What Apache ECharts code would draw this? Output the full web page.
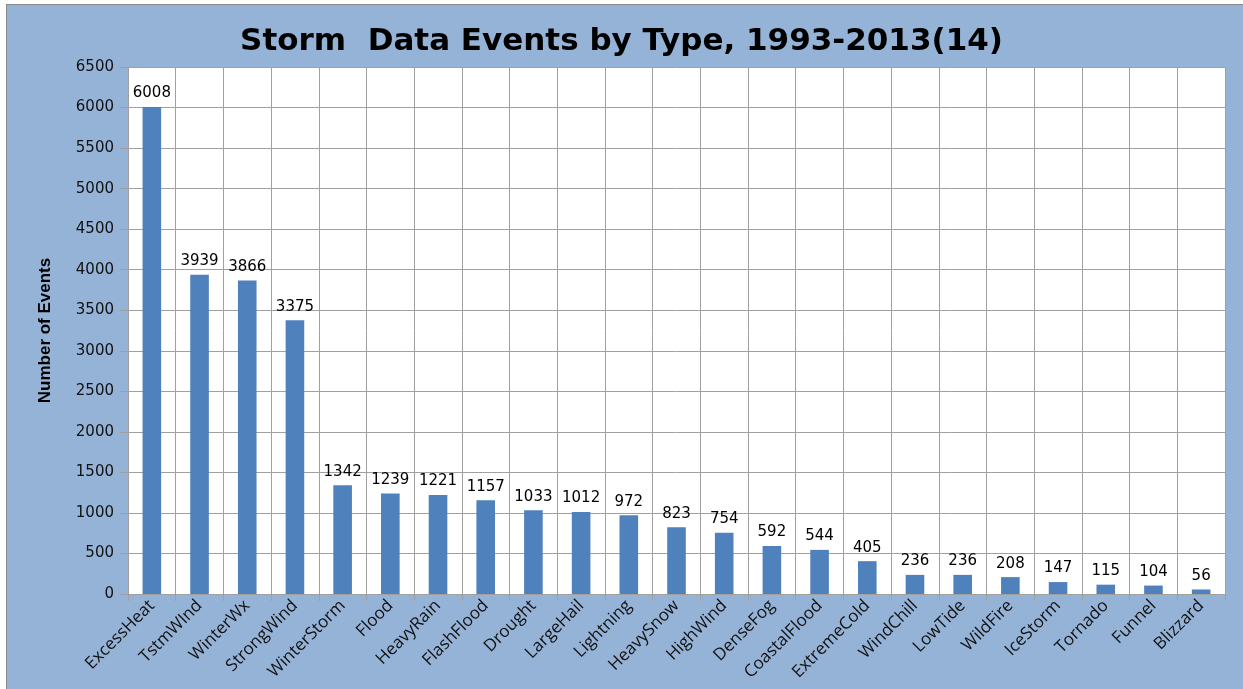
<!DOCTYPE html>
<html>
<head>
<meta charset="utf-8">
<script src="https://cdn.jsdelivr.net/npm/echarts@6/dist/echarts.min.js"></script>
<style>
  html, body { margin: 0; padding: 0; background: #ffffff; }
  #wrap { position: absolute; left: 6px; top: 4px; width: 1237px; height: 685px;
          border-left: 1px solid #8a8a8a; border-top: 1px solid #8a8a8a; box-sizing: border-box; background: #95b3d7; }
  #chart { position: absolute; left: 0; top: 0; width: 1243px; height: 689px; }
</style>
</head>
<body>
<div id="wrap"></div>
<div id="chart"></div>
<script>
const categories = ['ExcessHeat', 'TstmWInd', 'WinterWx', 'StrongWind', 'WinterStorm', 'Flood', 'HeavyRain',
  'FlashFlood', 'Drought', 'LargeHail', 'Lightning', 'HeavySnow', 'HighWind', 'DenseFog', 'CoastalFlood',
  'ExtremeCold', 'WindChill', 'LowTide', 'WildFire', 'IceStorm', 'Tornado', 'Funnel', 'Blizzard']
const eventCounts = [6008, 3939, 3866, 3375, 1342, 1239, 1221, 1157, 1033, 1012, 972, 823, 754, 592, 544,
  405, 236, 236, 208, 147, 115, 104, 56]

const chart = echarts.init(document.getElementById('chart'))

const option = {
  backgroundColor: 'transparent',
  animation: false,
  title: {
    text: 'Storm  Data Events by Type, 1993-2013(14)',
    left: 'center',
    top: 21,
    textStyle: {
      fontFamily: 'DejaVu Sans',
      fontWeight: 'bold',
      fontSize: 31,
      color: '#000'
    }
  },
  grid: {
    left: 128,
    right: 18,
    top: 67,
    bottom: 95,
    show: true,
    backgroundColor: '#ffffff',
    borderWidth: 0
  },
  xAxis: {
    type: 'category',
    data: categories,
    axisLine: { show: true, lineStyle: { color: '#a0a0a0', width: 1 } },
    axisTick: { show: true, interval: 0, length: 7, lineStyle: { color: '#a0a0a0' } },
    splitLine: { show: true, interval: 0, lineStyle: { color: '#a0a0a0', width: 1 } },
    axisLabel: {
      interval: 0,
      rotate: 45,
      margin: 9,
      fontFamily: 'Open Sans',
      fontSize: 17,
      color: '#111'
    }
  },
  yAxis: {
    type: 'value',
    min: 0,
    max: 6500,
    interval: 500,
    name: 'Number of Events',
    nameLocation: 'middle',
    nameGap: 74,
    nameTextStyle: {
      fontFamily: 'Liberation Sans',
      fontWeight: 'bold',
      fontSize: 17,
      color: '#000'
    },
    axisLine: { show: true, lineStyle: { color: '#a0a0a0' } },
    axisTick: { show: true, length: 8, lineStyle: { color: '#a0a0a0' } },
    splitLine: { show: true, lineStyle: { color: '#a0a0a0', width: 1 } },
    axisLabel: {
      margin: 14,
      fontFamily: 'DejaVu Sans',
      fontSize: 15,
      color: '#111',
      formatter: v => String(v)
    }
  },
  series: [{
    type: 'bar',
    data: eventCounts,
    barCategoryGap: '61%',
    itemStyle: { color: '#4f81bd' },
    label: {
      show: true,
      position: 'top',
      distance: 6,
      fontFamily: 'DejaVu Sans',
      fontSize: 15,
      color: '#000'
    }
  }]
}

chart.setOption(option)
window.addEventListener('resize', () => chart.resize())
</script>
</body>
</html>
